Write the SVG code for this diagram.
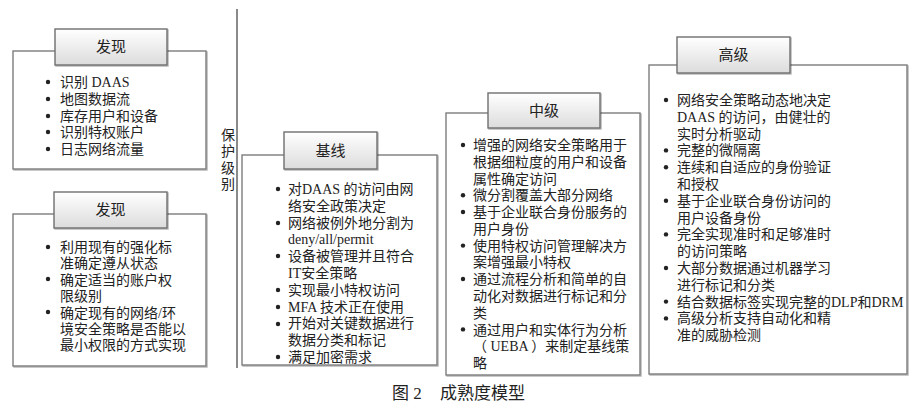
<svg xmlns="http://www.w3.org/2000/svg" width="917" height="411" viewBox="0 0 917 411">
<defs>
<linearGradient id="tabg" x1="0" y1="0" x2="0" y2="1">
<stop offset="0" stop-color="#ffffff"/>
<stop offset="1" stop-color="#dcdcdc"/>
</linearGradient>
<filter id="sh" x="-5%" y="-5%" width="110%" height="110%">
<feDropShadow dx="1" dy="1" stdDeviation="0.6" flood-color="#000" flood-opacity="0.3"/>
</filter>
</defs>
<style>
.box{fill:#fff;stroke:#7d7d7d;stroke-width:1.4;filter:url(#sh)}
.tab{fill:url(#tabg);stroke:#6e6e6e;stroke-width:1.4;filter:url(#sh)}
text{font-family:"Liberation Serif","Noto Sans CJK SC",serif;fill:#222}
.t{font-size:14px}
.h{font-size:15px;text-anchor:middle}
.b{fill:#222}
.cap{font-size:17px}
</style>
<rect width="917" height="411" fill="#fff"/>

<g id="axis">
<line x1="237" y1="9" x2="237" y2="368" stroke="#8a8a8a" stroke-width="2"/>
<text class="t" x="221" y="140">保</text>
<text class="t" x="221" y="156">护</text>
<text class="t" x="221" y="173">级</text>
<text class="t" x="221" y="189">别</text>
</g>

<g id="connectors"></g>

<g id="node-discover1">
<rect class="box" x="13" y="51" width="193" height="118"/>
<rect class="tab" x="55" y="29" width="112" height="36"/>
<text class="h" x="111" y="52">发现</text>
<g class="b"><circle cx="48" cy="82" r="2.2"/><circle cx="48" cy="99" r="2.2"/><circle cx="48" cy="116" r="2.2"/><circle cx="48" cy="132" r="2.2"/><circle cx="48" cy="149" r="2.2"/></g>
<text class="t" x="60" y="87">识别 DAAS</text>
<text class="t" x="60" y="104">地图数据流</text>
<text class="t" x="60" y="121">库存用户和设备</text>
<text class="t" x="60" y="137">识别特权账户</text>
<text class="t" x="60" y="154">日志网络流量</text>
</g>

<g id="node-discover2">
<rect class="box" x="13" y="214" width="193" height="152"/>
<rect class="tab" x="54" y="192" width="113" height="36"/>
<text class="h" x="110.5" y="215">发现</text>
<g class="b"><circle cx="48" cy="247" r="2.2"/><circle cx="48" cy="279" r="2.2"/><circle cx="48" cy="312" r="2.2"/></g>
<text class="t" x="60" y="252">利用现有的强化标</text>
<text class="t" x="60" y="268">准确定遵从状态</text>
<text class="t" x="60" y="284.5">确定适当的账户权</text>
<text class="t" x="60" y="301">限级别</text>
<text class="t" x="60" y="317.5">确定现有的网络/环</text>
<text class="t" x="60" y="334">境安全策略是否能以</text>
<text class="t" x="60" y="350">最小权限的方式实现</text>
</g>

<g id="node-baseline">
<rect class="box" x="242" y="155" width="195" height="210"/>
<rect class="tab" x="284" y="132" width="93" height="37"/>
<text class="h" x="330.5" y="156">基线</text>
<g class="b"><circle cx="278" cy="189" r="2.2"/><circle cx="278" cy="223" r="2.2"/><circle cx="278" cy="256" r="2.2"/><circle cx="278" cy="290" r="2.2"/><circle cx="278" cy="307" r="2.2"/><circle cx="278" cy="324" r="2.2"/><circle cx="278" cy="357" r="2.2"/></g>
<text class="t" x="288" y="194">对DAAS 的访问由网</text>
<text class="t" x="288" y="210.8">络安全政策决定</text>
<text class="t" x="288" y="227.6">网络被例外地分割为</text>
<text class="t" x="288" y="244.4">deny/all/permit</text>
<text class="t" x="288" y="261.2">设备被管理并且符合</text>
<text class="t" x="288" y="278">IT安全策略</text>
<text class="t" x="288" y="294.8">实现最小特权访问</text>
<text class="t" x="288" y="311.6">MFA 技术正在使用</text>
<text class="t" x="288" y="328.4">开始对关键数据进行</text>
<text class="t" x="288" y="345.2">数据分类和标记</text>
<text class="t" x="288" y="362">满足加密需求</text>
</g>

<g id="node-intermediate">
<rect class="box" x="446" y="113" width="194" height="262"/>
<rect class="tab" x="488" y="93" width="112" height="35"/>
<text class="h" x="544" y="116">中级</text>
<g class="b"><circle cx="463" cy="145" r="2.2"/><circle cx="463" cy="195.3" r="2.2"/><circle cx="463" cy="212" r="2.2"/><circle cx="463" cy="245.6" r="2.2"/><circle cx="463" cy="279" r="2.2"/><circle cx="463" cy="329.4" r="2.2"/></g>
<text class="t" x="473" y="150">增强的网络安全策略用于</text>
<text class="t" x="473" y="166.8">根据细粒度的用户和设备</text>
<text class="t" x="473" y="183.5">属性确定访问</text>
<text class="t" x="473" y="200.3">微分割覆盖大部分网络</text>
<text class="t" x="473" y="217.1">基于企业联合身份服务的</text>
<text class="t" x="473" y="233.9">用户身份</text>
<text class="t" x="473" y="250.6">使用特权访问管理解决方</text>
<text class="t" x="473" y="267.4">案增强最小特权</text>
<text class="t" x="473" y="284.2">通过流程分析和简单的自</text>
<text class="t" x="473" y="300.9">动化对数据进行标记和分</text>
<text class="t" x="473" y="317.7">类</text>
<text class="t" x="473" y="334.5">通过用户和实体行为分析</text>
<text class="t" x="473" y="351.2">（ UEBA ）来制定基线策</text>
<text class="t" x="473" y="368">略</text>
</g>

<g id="node-advanced">
<rect class="box" x="649" y="65" width="258" height="309"/>
<rect class="tab" x="677" y="37" width="113" height="36"/>
<text class="h" x="733.5" y="60">高级</text>
<g class="b"><circle cx="666" cy="100" r="2.2"/><circle cx="666" cy="150.4" r="2.2"/><circle cx="666" cy="167.2" r="2.2"/><circle cx="666" cy="200.8" r="2.2"/><circle cx="666" cy="234.4" r="2.2"/><circle cx="666" cy="268" r="2.2"/><circle cx="666" cy="301.6" r="2.2"/><circle cx="666" cy="318.4" r="2.2"/></g>
<text class="t" x="677" y="105">网络安全策略动态地决定</text>
<text class="t" x="677" y="121.8">DAAS 的访问，由健壮的</text>
<text class="t" x="677" y="138.6">实时分析驱动</text>
<text class="t" x="677" y="155.4">完整的微隔离</text>
<text class="t" x="677" y="172.2">连续和自适应的身份验证</text>
<text class="t" x="677" y="189">和授权</text>
<text class="t" x="677" y="205.8">基于企业联合身份访问的</text>
<text class="t" x="677" y="222.6">用户设备身份</text>
<text class="t" x="677" y="239.4">完全实现准时和足够准时</text>
<text class="t" x="677" y="256.2">的访问策略</text>
<text class="t" x="677" y="273">大部分数据通过机器学习</text>
<text class="t" x="677" y="289.8">进行标记和分类</text>
<text class="t" x="677" y="306.6">结合数据标签实现完整的DLP和DRM</text>
<text class="t" x="677" y="323.4">高级分析支持自动化和精</text>
<text class="t" x="677" y="340.2">准的威胁检测</text>
</g>

<g id="caption">
<text class="cap" x="392" y="399">图 2</text>
<text class="cap" x="440" y="399">成熟度模型</text>
</g>
</svg>
